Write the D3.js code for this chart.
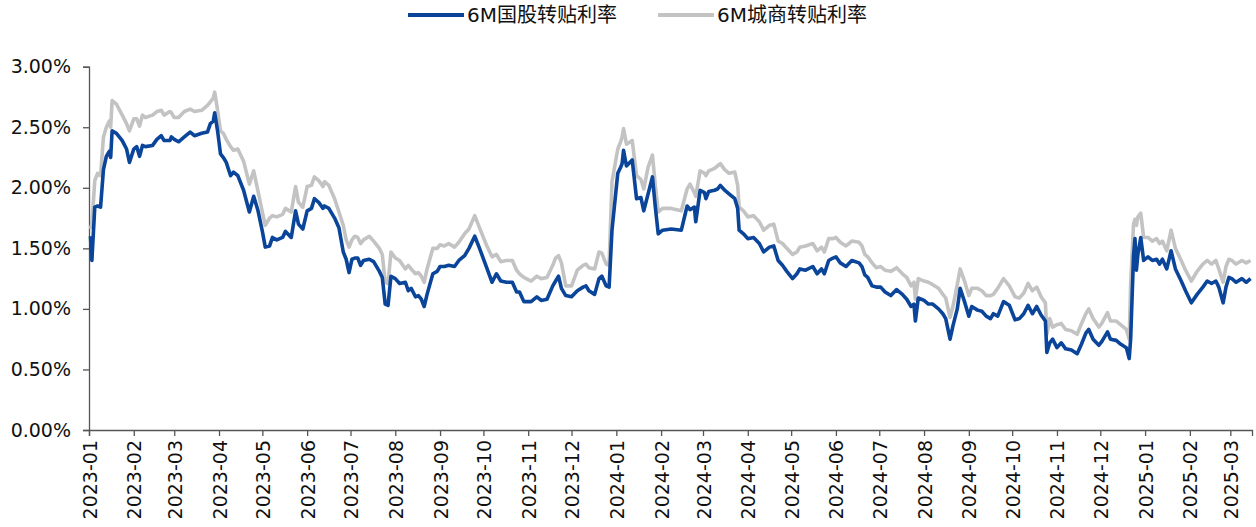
<!DOCTYPE html>
<html>
<head>
<meta charset="utf-8">
<script src="https://cdn.jsdelivr.net/npm/d3@7/dist/d3.min.js"></script>
<style>
  html, body { margin: 0; padding: 0; background: #fff; }
  svg { display: block; }
  .tick text { font-family: "DejaVu Sans", Verdana, sans-serif; }
</style>
</head>
<body>
<svg id="chart" width="1256" height="527"></svg>
<script>
// Trade dates (sampled) and 6M bill rediscount rates, in percent
const dates = [
  "2023-01-02","2023-01-03","2023-01-05","2023-01-07","2023-01-09","2023-01-11","2023-01-13","2023-01-15","2023-01-16","2023-01-17",
  "2023-01-20","2023-01-24","2023-01-27","2023-01-29","2023-02-01","2023-02-03","2023-02-05","2023-02-07","2023-02-09","2023-02-14",
  "2023-02-17","2023-02-20","2023-02-22","2023-02-26","2023-02-27","2023-03-01","2023-03-04","2023-03-08","2023-03-12","2023-03-15",
  "2023-03-20","2023-03-24","2023-03-26","2023-03-28","2023-03-29","2023-03-31","2023-04-02","2023-04-04","2023-04-06","2023-04-09",
  "2023-04-11","2023-04-14","2023-04-18","2023-04-22","2023-04-25","2023-04-28","2023-05-01","2023-05-03","2023-05-06","2023-05-08",
  "2023-05-11","2023-05-15","2023-05-17","2023-05-21","2023-05-24","2023-05-26","2023-05-29","2023-06-01","2023-06-04","2023-06-06",
  "2023-06-09","2023-06-12","2023-06-13","2023-06-16","2023-06-20","2023-06-23","2023-06-26","2023-06-28","2023-06-30","2023-07-02",
  "2023-07-04","2023-07-06","2023-07-08","2023-07-10","2023-07-14","2023-07-17","2023-07-21","2023-07-23","2023-07-25","2023-07-27",
  "2023-07-29","2023-08-01","2023-08-04","2023-08-08","2023-08-10","2023-08-12","2023-08-15","2023-08-17","2023-08-19","2023-08-21",
  "2023-08-23","2023-08-27","2023-08-30","2023-09-01","2023-09-04","2023-09-07","2023-09-11","2023-09-14","2023-09-18","2023-09-21",
  "2023-09-25","2023-09-28","2023-10-03","2023-10-07","2023-10-10","2023-10-13","2023-10-17","2023-10-21","2023-10-24","2023-10-26",
  "2023-10-29","2023-11-03","2023-11-07","2023-11-10","2023-11-14","2023-11-18","2023-11-20","2023-11-22","2023-11-24","2023-11-27",
  "2023-12-01","2023-12-05","2023-12-09","2023-12-11","2023-12-13","2023-12-17","2023-12-20","2023-12-22","2023-12-25","2023-12-27",
  "2023-12-29","2024-01-02","2024-01-04","2024-01-05","2024-01-06","2024-01-08","2024-01-12","2024-01-15","2024-01-18","2024-01-20",
  "2024-01-23","2024-01-26","2024-01-28","2024-01-30","2024-02-02","2024-02-08","2024-02-15","2024-02-19","2024-02-21","2024-02-24",
  "2024-02-25","2024-02-28","2024-03-02","2024-03-03","2024-03-05","2024-03-09","2024-03-11","2024-03-13","2024-03-16","2024-03-19",
  "2024-03-23","2024-03-25","2024-03-26","2024-03-29","2024-04-01","2024-04-05","2024-04-09","2024-04-12","2024-04-16","2024-04-19",
  "2024-04-22","2024-04-25","2024-04-28","2024-05-02","2024-05-05","2024-05-07","2024-05-11","2024-05-16","2024-05-19","2024-05-22",
  "2024-05-24","2024-05-27","2024-05-30","2024-06-01","2024-06-04","2024-06-08","2024-06-12","2024-06-17","2024-06-19","2024-06-21",
  "2024-06-23","2024-06-26","2024-06-29","2024-07-02","2024-07-05","2024-07-09","2024-07-13","2024-07-17","2024-07-20","2024-07-23",
  "2024-07-25","2024-07-26","2024-07-28","2024-08-01","2024-08-04","2024-08-07","2024-08-11","2024-08-14","2024-08-16","2024-08-19",
  "2024-08-21","2024-08-24","2024-08-26","2024-08-29","2024-09-01","2024-09-03","2024-09-07","2024-09-10","2024-09-13","2024-09-16",
  "2024-09-18","2024-09-21","2024-09-25","2024-09-29","2024-10-03","2024-10-06","2024-10-09","2024-10-12","2024-10-15","2024-10-18",
  "2024-10-21","2024-10-24","2024-10-25","2024-10-27","2024-10-29","2024-11-01","2024-11-04","2024-11-07","2024-11-11","2024-11-15",
  "2024-11-18","2024-11-21","2024-11-23","2024-11-26","2024-11-30","2024-12-02","2024-12-06","2024-12-08","2024-12-12","2024-12-15",
  "2024-12-19","2024-12-21","2024-12-22","2024-12-24","2024-12-25","2024-12-26","2024-12-27","2024-12-29","2024-12-31","2025-01-03",
  "2025-01-06","2025-01-09","2025-01-11","2025-01-13","2025-01-16","2025-01-19","2025-01-22","2025-01-26","2025-01-29","2025-02-02",
  "2025-02-06","2025-02-10","2025-02-13","2025-02-16","2025-02-19","2025-02-21","2025-02-24","2025-02-26","2025-02-28","2025-03-02",
  "2025-03-05","2025-03-09","2025-03-12","2025-03-15"
];

// 6M国股转贴利率 (%)
const guoGuRate = [
  1.60,1.40,1.84,1.85,1.84,2.15,2.26,2.30,2.25,2.47,
  2.45,2.39,2.32,2.21,2.32,2.34,2.26,2.35,2.34,2.35,
  2.40,2.43,2.39,2.39,2.42,2.40,2.38,2.42,2.46,2.43,
  2.45,2.46,2.53,2.55,2.62,2.47,2.28,2.25,2.21,2.10,
  2.13,2.10,1.98,1.80,1.93,1.81,1.64,1.51,1.52,1.59,
  1.57,1.59,1.64,1.59,1.81,1.70,1.66,1.81,1.83,1.91,
  1.88,1.83,1.85,1.83,1.75,1.67,1.47,1.41,1.30,1.41,
  1.42,1.42,1.36,1.40,1.41,1.39,1.31,1.26,1.04,1.03,
  1.27,1.25,1.21,1.22,1.15,1.17,1.10,1.11,1.08,1.02,
  1.12,1.29,1.31,1.35,1.35,1.36,1.35,1.40,1.44,1.50,
  1.60,1.51,1.35,1.22,1.29,1.23,1.22,1.22,1.14,1.14,
  1.06,1.06,1.10,1.07,1.08,1.19,1.23,1.27,1.17,1.11,
  1.10,1.15,1.18,1.19,1.15,1.12,1.25,1.27,1.19,1.18,
  1.65,2.12,2.17,2.20,2.31,2.18,2.23,1.91,1.92,1.81,
  1.95,2.09,1.84,1.62,1.65,1.66,1.65,1.85,1.82,1.84,
  1.72,1.98,1.96,1.91,1.97,1.98,1.99,2.02,1.98,1.95,
  1.91,1.83,1.65,1.62,1.58,1.59,1.54,1.47,1.51,1.52,
  1.40,1.36,1.31,1.25,1.29,1.33,1.32,1.35,1.29,1.33,
  1.29,1.40,1.42,1.43,1.38,1.35,1.40,1.38,1.35,1.28,
  1.26,1.19,1.18,1.18,1.14,1.11,1.16,1.12,1.08,1.02,
  1.04,0.90,1.09,1.07,1.04,1.04,1.00,0.96,0.92,0.75,
  0.86,1.00,1.17,1.06,0.94,1.02,0.99,0.98,0.94,0.92,
  0.96,0.94,1.06,1.03,0.91,0.92,0.96,1.03,0.96,1.02,
  0.95,0.90,0.64,0.72,0.75,0.68,0.72,0.67,0.66,0.63,
  0.71,0.80,0.83,0.75,0.70,0.73,0.81,0.75,0.74,0.71,
  0.68,0.59,0.75,1.44,1.58,1.32,1.45,1.59,1.40,1.43,
  1.40,1.41,1.37,1.41,1.33,1.48,1.33,1.23,1.15,1.05,
  1.12,1.18,1.23,1.21,1.23,1.18,1.05,1.18,1.26,1.25,
  1.22,1.25,1.22,1.25
];

// 6M城商转贴利率 (%)
const chengShangRate = [
  1.66,1.70,2.06,2.12,2.10,2.42,2.50,2.55,2.50,2.72,
  2.69,2.60,2.53,2.47,2.57,2.57,2.51,2.60,2.58,2.60,
  2.63,2.64,2.60,2.63,2.62,2.58,2.58,2.63,2.65,2.63,
  2.64,2.68,2.71,2.74,2.79,2.64,2.47,2.45,2.40,2.34,
  2.31,2.32,2.22,2.03,2.14,1.97,1.80,1.69,1.75,1.77,
  1.76,1.78,1.83,1.80,2.01,1.88,1.84,2.01,2.02,2.09,
  2.06,2.01,2.05,2.02,1.91,1.80,1.69,1.57,1.51,1.57,
  1.60,1.59,1.54,1.57,1.60,1.56,1.50,1.45,1.22,1.21,
  1.47,1.42,1.40,1.33,1.36,1.33,1.29,1.30,1.27,1.22,
  1.33,1.50,1.50,1.53,1.52,1.54,1.51,1.55,1.62,1.66,
  1.77,1.68,1.53,1.43,1.45,1.39,1.40,1.40,1.32,1.29,
  1.26,1.23,1.27,1.25,1.26,1.36,1.42,1.44,1.38,1.19,
  1.19,1.32,1.36,1.37,1.34,1.33,1.47,1.46,1.37,1.36,
  2.05,2.32,2.38,2.42,2.49,2.36,2.39,2.10,2.07,1.99,
  2.17,2.27,2.02,1.80,1.83,1.83,1.81,1.99,2.03,1.96,
  1.93,2.14,2.12,2.10,2.14,2.16,2.18,2.20,2.15,2.12,
  2.13,2.02,1.84,1.81,1.76,1.77,1.72,1.65,1.69,1.70,
  1.56,1.54,1.50,1.45,1.47,1.51,1.52,1.54,1.48,1.51,
  1.47,1.58,1.58,1.59,1.55,1.52,1.56,1.55,1.52,1.45,
  1.43,1.38,1.34,1.35,1.32,1.31,1.34,1.29,1.26,1.19,
  1.22,1.08,1.25,1.23,1.22,1.20,1.17,1.12,1.09,0.93,
  1.02,1.20,1.33,1.23,1.11,1.17,1.17,1.15,1.11,1.11,
  1.12,1.17,1.25,1.19,1.10,1.09,1.13,1.21,1.15,1.18,
  1.10,1.05,0.79,0.92,0.85,0.87,0.88,0.83,0.82,0.79,
  0.88,0.96,1.00,0.92,0.85,0.88,0.97,0.90,0.90,0.87,
  0.83,0.75,1.20,1.70,1.74,1.69,1.76,1.79,1.59,1.59,
  1.56,1.58,1.54,1.56,1.48,1.65,1.50,1.40,1.32,1.23,
  1.31,1.37,1.40,1.37,1.40,1.33,1.22,1.35,1.41,1.40,
  1.37,1.40,1.38,1.40
];

const yTicks = [0, 0.5, 1.0, 1.5, 2.0, 2.5, 3.0];
const monthTicks = [
  "2023-01","2023-02","2023-03","2023-04","2023-05","2023-06","2023-07","2023-08","2023-09",
  "2023-10","2023-11","2023-12","2024-01","2024-02","2024-03","2024-04","2024-05","2024-06",
  "2024-07","2024-08","2024-09","2024-10","2024-11","2024-12","2025-01","2025-02","2025-03"
];
const seriesNames = ["6M国股转贴利率", "6M城商转贴利率"];
const seriesColors = ["#0a4599", "#c3c3c3"];

const parseDay = d3.timeParse("%Y-%m-%d");
const parseMonth = d3.timeParse("%Y-%m");
const fmtMonth = d3.timeFormat("%Y-%m");

const svg = d3.select("#chart");
const margin = { left: 89, right: 1252, top: 66.7, bottom: 430 };

const x = d3.scaleTime()
  .domain([parseDay("2023-01-01"), parseDay("2025-03-16")])
  .range([margin.left, margin.right]);

const y = d3.scaleLinear()
  .domain([0, 3])
  .range([margin.bottom, margin.top]);

const axisColor = "#555";

// Y axis
const yAxis = d3.axisLeft(y)
  .tickValues(yTicks)
  .tickSize(6)
  .tickPadding(12)
  .tickFormat(d => d.toFixed(2) + "%");

const gy = svg.append("g")
  .attr("transform", `translate(${margin.left},0)`)
  .call(yAxis);
gy.select(".domain").attr("stroke", axisColor).attr("stroke-width", 1.3);
gy.selectAll(".tick line").attr("stroke", axisColor).attr("stroke-width", 1.3);
gy.selectAll(".tick text")
  .attr("font-size", 19)
  .attr("fill", "#111");

// X axis with monthly ticks, labels rotated
const xAxis = d3.axisBottom(x)
  .tickValues(monthTicks.map(parseMonth))
  .tickSize(6)
  .tickFormat(fmtMonth);

const gx = svg.append("g")
  .attr("transform", `translate(0,${margin.bottom})`)
  .call(xAxis);
gx.select(".domain").attr("stroke", axisColor).attr("stroke-width", 1.3);
gx.selectAll(".tick line").attr("stroke", axisColor).attr("stroke-width", 1.3);
gx.selectAll(".tick text")
  .attr("font-size", 19)
  .attr("fill", "#111")
  .attr("text-anchor", "end")
  .attr("dy", null)
  .attr("dominant-baseline", "central")
  .attr("transform", "translate(0,10) rotate(-90)")
  .attr("x", 0)
  .attr("y", 0);

// Lines: 城商 drawn first, 国股 on top
const series = [
  { name: seriesNames[1], values: chengShangRate, color: seriesColors[1] },
  { name: seriesNames[0], values: guoGuRate, color: seriesColors[0] }
];

const line = d3.line()
  .x(d => x(d.date))
  .y(d => y(d.value));

series.forEach(s => {
  const pts = dates.map((d, i) => ({ date: parseDay(d), value: s.values[i] }));
  svg.append("path")
    .datum(pts)
    .attr("fill", "none")
    .attr("stroke", s.color)
    .attr("stroke-width", 3.6)
    .attr("stroke-linejoin", "round")
    .attr("d", line);
});

// Legend
const legendItems = [
  { name: seriesNames[0], color: seriesColors[0], x: 408 },
  { name: seriesNames[1], color: seriesColors[1], x: 658 }
];
const lg = svg.append("g");
legendItems.forEach(it => {
  lg.append("line")
    .attr("x1", it.x).attr("x2", it.x + 56)
    .attr("y1", 15).attr("y2", 15)
    .attr("stroke", it.color)
    .attr("stroke-width", 4);
  lg.append("text")
    .attr("x", it.x + 59)
    .attr("y", 15)
    .attr("dominant-baseline", "central")
    .attr("font-family", "'DejaVu Sans', 'Noto Sans CJK SC', sans-serif")
    .attr("font-size", 20)
    .attr("fill", "#111")
    .text(it.name);
});
</script>
</body>
</html>
